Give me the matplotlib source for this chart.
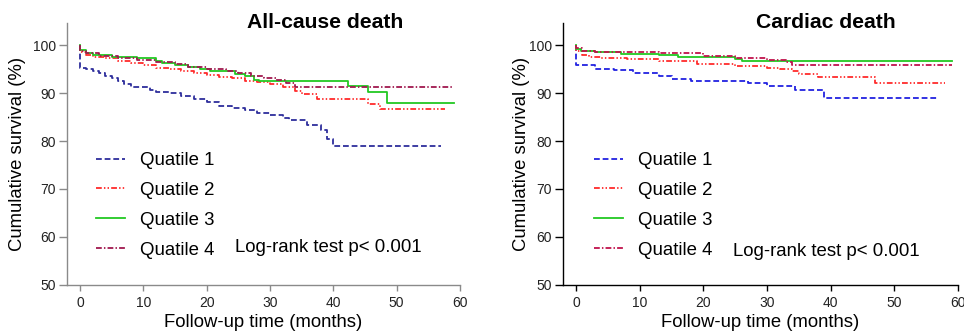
import matplotlib
matplotlib.use("Agg")
import matplotlib.pyplot as plt
from matplotlib.lines import Line2D

plt.rcParams['font.family'] = ['Liberation Sans', 'DejaVu Sans']

labels = ["Quatile 1", "Quatile 2", "Quatile 3", "Quatile 4"]

# All-cause death (months, survival %)
ac_q1_t = [0, 0, 1, 2, 3, 4, 5, 6, 7, 8, 11, 12, 14, 16, 18, 20, 22, 24, 26, 28, 30, 32, 33, 35.8, 38, 39, 40, 57]
ac_q1_s = [100, 95.3, 95.0, 94.6, 94.2, 93.6, 93.1, 92.5, 91.9, 91.3, 90.7, 90.3, 89.9, 89.4, 88.8, 88.2, 87.3, 86.9, 86.4, 85.9, 85.4, 84.8, 84.3, 83.3, 82.2, 80.5, 79.0, 79.0]
ac_q2_t = [0, 0, 1, 2, 4, 6, 8, 10, 12, 14, 16, 18, 20, 22, 24, 26, 28, 30, 32, 34, 35, 37.5, 45.5, 47.3, 57.6]
ac_q2_s = [100, 98.6, 98.0, 97.6, 97.2, 96.7, 96.2, 95.8, 95.3, 94.9, 94.5, 94.2, 93.7, 93.4, 93.1, 92.6, 92.2, 91.9, 91.3, 90.5, 89.8, 88.8, 87.8, 86.7, 86.7]
ac_q3_t = [0, 0, 1, 2, 5, 9, 12, 13, 15, 17, 19, 20.5, 24.5, 26, 27.5, 28.2, 42.3, 45.5, 48.5, 59]
ac_q3_s = [100, 98.9, 98.4, 97.9, 97.6, 97.2, 96.6, 96.3, 95.9, 95.5, 94.9, 94.5, 94.0, 93.6, 92.8, 92.4, 91.4, 90.2, 87.9, 87.9]
ac_q4_t = [0, 0, 1, 3, 6, 9, 12, 15, 17, 20, 23, 25, 27, 29, 31, 32.5, 34, 59]
ac_q4_s = [100, 98.8, 98.3, 97.7, 97.3, 96.9, 96.5, 96.0, 95.5, 95.0, 94.5, 94.1, 93.6, 93.2, 92.8, 92.0, 91.2, 91.2]

# Cardiac death
cd_q1_t = [0, 0, 3, 6, 9, 13, 15, 18, 27, 30, 34.4, 39, 57]
cd_q1_s = [100, 95.9, 95.1, 94.7, 94.1, 93.5, 93.0, 92.4, 92.0, 91.5, 90.7, 88.9, 88.9]
cd_q2_t = [0, 0, 1, 2, 4, 8, 13, 19, 25, 30, 32, 34, 35, 38, 47, 58]
cd_q2_s = [100, 98.8, 98.0, 97.6, 97.2, 97.0, 96.6, 96.1, 95.7, 95.3, 95.0, 94.5, 94.0, 93.3, 92.0, 92.0]
cd_q3_t = [0, 0, 0.8, 3, 7, 13, 16, 25, 26, 59]
cd_q3_s = [100, 99.2, 98.8, 98.5, 98.2, 97.9, 97.6, 97.1, 96.7, 96.7]
cd_q4_t = [0, 0, 1, 3, 13, 20, 25, 30, 33, 34, 59]
cd_q4_s = [100, 99.3, 98.8, 98.6, 98.3, 97.8, 97.2, 96.9, 96.4, 95.9, 95.9]

x_ticks = [0, 10, 20, 30, 40, 50, 60]
y_ticks = [50, 60, 70, 80, 90, 100]

styles = [(0, (3.2, 1.6)), (0, (3.2, 1.2, 0.8, 1.2, 0.8, 1.2)), '-', (0, (3.2, 1.2, 0.8, 1.2))]
left_colors = ['#2e2e9c', '#ff2b2b', '#22c822', '#a0184e']
right_colors = ['#2222e0', '#ff2b2b', '#22c822', '#c0124c']

W, H = 964, 333
fig = plt.figure(figsize=(W / 100, H / 100), dpi=100)

def make_axes(left_px, right_px, t0_px, t60_px):
    ax = fig.add_axes([left_px / W, (H - 285) / H, (right_px - left_px) / W, (285 - 22.7) / H])
    ppm = (t60_px - t0_px) / 60.0
    ax.set_xlim((left_px - t0_px) / ppm, 60)
    ax.set_ylim(50, 50 + (285 - 22.7) / 4.8)
    return ax

panels = [
    dict(ax=make_axes(67, 460, 80, 460), title="All-cause death", title_x=325,
         data=[(ac_q1_t, ac_q1_s), (ac_q2_t, ac_q2_s), (ac_q3_t, ac_q3_s), (ac_q4_t, ac_q4_s)],
         colors=left_colors, spine='#8a8a8a', leg_x=96, lr_x=235, lr_y=248),
    dict(ax=make_axes(563, 958, 576, 958), title="Cardiac death", title_x=826,
         data=[(cd_q1_t, cd_q1_s), (cd_q2_t, cd_q2_s), (cd_q3_t, cd_q3_s), (cd_q4_t, cd_q4_s)],
         colors=right_colors, spine='#000000', leg_x=594, lr_x=733, lr_y=252),
]

for p in panels:
    ax = p['ax']
    for (t, s), c, ls in zip(p['data'], p['colors'], styles):
        ax.plot(t, s, drawstyle='steps-post', color=c, linestyle=ls, linewidth=1.3)
    for side in ['top', 'right']:
        ax.spines[side].set_visible(False)
    for side in ['left', 'bottom']:
        ax.spines[side].set_color(p['spine'])
        ax.spines[side].set_linewidth(1.0)
    ax.set_xticks(x_ticks)
    ax.set_yticks(y_ticks)
    ax.tick_params(axis='x', length=4, width=1.0, color=p['spine'], labelsize=10, pad=4, labelcolor='#222222')
    ax.tick_params(axis='y', length=6, width=1.0, color=p['spine'], labelsize=10, pad=2, labelcolor='#222222')
    ax.set_xlabel("Follow-up time (months)", fontsize=13.3, labelpad=3)
    ax.set_ylabel("Cumulative survival (%)", fontsize=13.3, labelpad=4)
    fig.text(p['title_x'] / W, 1 - 23 / H, p['title'], ha='center', va='center',
             fontsize=15.2, fontweight='bold')
    handles = [Line2D([], [], color=c, linestyle=ls, linewidth=1.3)
               for c, ls in zip(p['colors'], styles)]
    ax.legend(handles, labels, loc='upper left', bbox_to_anchor=(p['leg_x'] / W, 1 - 152 / H),
              bbox_transform=fig.transFigure, frameon=False, fontsize=13.4,
              handlelength=1.55, handletextpad=0.8, labelspacing=0.69, borderpad=0, borderaxespad=0)
    fig.text(p['lr_x'] / W, 1 - p['lr_y'] / H, "Log-rank test p< 0.001", ha='left', va='center',
             fontsize=13.4)

# y-label position
panels[0]['ax'].yaxis.set_label_coords((26 - 67) / (460 - 67), 0.5)
panels[1]['ax'].yaxis.set_label_coords((530 - 563) / (958 - 563), 0.5)

fig.savefig("out.png", dpi=100)
